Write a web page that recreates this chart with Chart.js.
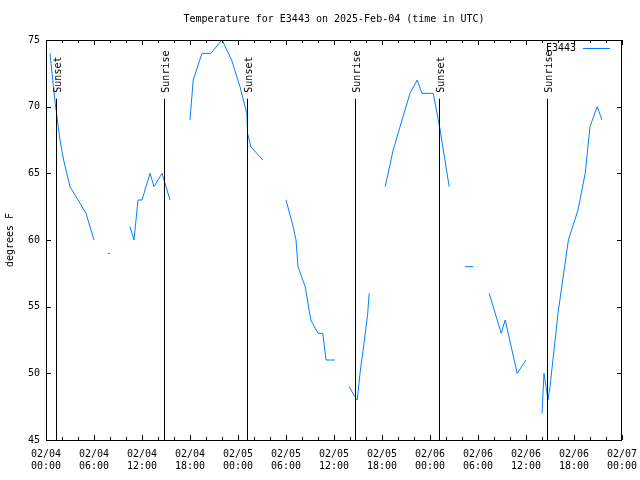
<!DOCTYPE html>
<html lang="en">
<head>
    <meta charset="UTF-8">
    <title>Temperature for E3443</title>
    <style>
        body {
            margin: 0;
            background-color: #ffffff;
        }
        canvas {
            display: block;
        }
    </style>
</head>
<body>
    <canvas id="tempChart" width="640" height="480"></canvas>

    <script src="https://cdn.jsdelivr.net/npm/chart.js"></script>
    <script>
        // hours since 02/04 00:00 UTC, temperature in F (null = gap in the record)
        const hours = [
            0.5, 1.1, 1.75, 2.2, 3, 4, 5, 6, 6.5,
            7.75, 8.0, 9,
            10.5, 11, 11.5, 12, 13, 13.5, 14.5, 15.5, 16.5,
            18, 18.4, 19.5, 20.6, 22, 23.2, 24.25, 25.1, 25.2, 25.6, 27.1, 28.5,
            30, 30.9, 31.25, 31.5, 32.4, 33.1, 34, 34.6, 35, 36.1, 37,
            37.9, 38.6, 38.9, 39.3, 39.75, 40.2, 40.4, 41.5,
            42.4, 43.4, 44.5, 45.5, 46.4, 47, 48.4, 49.2, 50.4, 51.5,
            52.4, 53.4, 54.5,
            55.4, 56.9, 57.4, 58.9, 60, 61,
            62, 62.25, 62.5, 62.75, 63, 64, 65.3, 66.5, 67.4, 68, 68.9, 69.5
        ];
        const temps = [
            74, 70.5, 67.5, 66, 64, 63, 62, 60, null,
            59, 59, null,
            61, 60, 63, 63, 65, 64, 65, 63, null,
            69, 72, 74, 74, 75, 73.5, 71.5, 69.5, 68, 67, 66, null,
            63, 61, 60, 58, 56.5, 54, 53, 53, 51, 51, null,
            49, 48.25, 48, 50.25, 52.25, 54.4, 56, null,
            64, 66.75, 69, 71, 72, 71, 71, 68.5, 64, null,
            58, 58, null,
            56, 53, 54, 50, 51, null,
            47, 50, 49, 48, 49, 54.5, 60, 62.25, 65, 68.5, 70, 69
        ];
        const tickDates = ['02/04', '02/04', '02/04', '02/04', '02/05', '02/05', '02/05', '02/05', '02/06', '02/06', '02/06', '02/06', '02/07'];
        const tickTimes = ['00:00', '06:00', '12:00', '18:00', '00:00', '06:00', '12:00', '18:00', '00:00', '06:00', '12:00', '18:00', '00:00'];
        const sunsetHours = [1.25, 25.125, 49.125];
        const sunriseHours = [14.75, 38.625, 62.625];

        const FONT = '10px "DejaVu Sans Mono", monospace';
        const LINE_COLOR = '#0080ff';

        const gnuplotDecor = {
            id: 'gnuplotDecor',
            afterDatasetsDraw(chart) {
                const ctx = chart.ctx;
                const x = chart.scales.x;
                const y = chart.scales.y;
                const a = chart.chartArea;
                ctx.save();
                ctx.strokeStyle = '#000';
                ctx.lineWidth = 1;

                // sunrise / sunset markers
                ctx.fillStyle = '#000';
                ctx.font = FONT;
                const sunTop = y.getPixelForValue(70.6);
                const drawSun = (h, label) => {
                    const px = Math.round(x.getPixelForValue(h)) + 0.5;
                    ctx.beginPath();
                    ctx.moveTo(px, sunTop);
                    ctx.lineTo(px, a.bottom);
                    ctx.stroke();
                    ctx.save();
                    ctx.translate(px + 1.5, sunTop - 6);
                    ctx.rotate(-Math.PI / 2);
                    ctx.textAlign = 'left';
                    ctx.textBaseline = 'middle';
                    ctx.fillText(label, 0, 0);
                    ctx.restore();
                };
                sunsetHours.forEach(h => drawSun(h, 'Sunset'));
                sunriseHours.forEach(h => drawSun(h, 'Sunrise'));

                // frame
                ctx.strokeRect(a.left + 0.5, a.top + 0.5, a.right - a.left - 1, a.bottom - a.top);

                // x ticks (major every 6h, minor every 2h), mirrored on top
                ctx.beginPath();
                for (let h = 0; h <= 72; h += 2) {
                    const px = Math.round(x.getPixelForValue(h)) + 0.5;
                    const len = h % 6 === 0 ? 5 : 3;
                    ctx.moveTo(px, a.bottom);
                    ctx.lineTo(px, a.bottom - len);
                    ctx.moveTo(px, a.top);
                    ctx.lineTo(px, a.top + len);
                }
                // y ticks, both sides
                for (let v = 45; v <= 75; v += 5) {
                    const py = Math.round(y.getPixelForValue(v)) + 0.5;
                    ctx.moveTo(a.left, py);
                    ctx.lineTo(a.left + 5, py);
                    ctx.moveTo(a.right, py);
                    ctx.lineTo(a.right - 5, py);
                }
                ctx.stroke();

                // legend
                ctx.textAlign = 'right';
                ctx.textBaseline = 'middle';
                ctx.fillText('E3443', 576, 48);
                ctx.strokeStyle = LINE_COLOR;
                ctx.beginPath();
                ctx.moveTo(583, 48.5);
                ctx.lineTo(610, 48.5);
                ctx.stroke();

                // title
                ctx.textAlign = 'center';
                ctx.fillText('Temperature for E3443 on 2025-Feb-04 (time in UTC)', (a.left + a.right) / 2, 19);

                // y axis label
                ctx.save();
                ctx.translate(10, (a.top + a.bottom) / 2);
                ctx.rotate(-Math.PI / 2);
                ctx.textAlign = 'center';
                ctx.fillText('degrees F', 0, 0);
                ctx.restore();

                ctx.restore();
            }
        };

        const points = hours.map((h, i) => ({ x: h, y: temps[i] }));

        new Chart(document.getElementById('tempChart').getContext('2d'), {
            type: 'line',
            data: {
                datasets: [{
                    label: 'E3443',
                    data: points,
                    borderColor: LINE_COLOR,
                    borderWidth: 1,
                    pointRadius: 0,
                    tension: 0,
                    spanGaps: false,
                    fill: false
                }]
            },
            options: {
                responsive: false,
                animation: false,
                devicePixelRatio: 1,
                layout: { padding: { top: 40, right: 18, bottom: 0, left: 0 } },
                plugins: {
                    legend: { display: false },
                    title: { display: false },
                    tooltip: { enabled: false }
                },
                scales: {
                    x: {
                        type: 'linear',
                        min: 0,
                        max: 72,
                        border: { display: false },
                        grid: { display: false, drawTicks: false },
                        afterFit: (scale) => {
                            scale.height = 40;
                            scale.paddingLeft = 0;
                            scale.paddingRight = 0;
                        },
                        ticks: {
                            stepSize: 6,
                            autoSkip: false,
                            maxRotation: 0,
                            padding: 8,
                            color: '#000',
                            font: { family: '"DejaVu Sans Mono", monospace', size: 10, lineHeight: 1.2 },
                            callback: (v) => [tickDates[v / 6], tickTimes[v / 6]]
                        }
                    },
                    y: {
                        min: 45,
                        max: 75,
                        border: { display: false },
                        grid: { display: false, drawTicks: false },
                        afterFit: (scale) => {
                            scale.width = 46;
                            scale.paddingTop = 0;
                            scale.paddingBottom = 0;
                        },
                        ticks: {
                            stepSize: 5,
                            padding: 6,
                            color: '#000',
                            font: { family: '"DejaVu Sans Mono", monospace', size: 10 }
                        }
                    }
                }
            },
            plugins: [gnuplotDecor]
        });
    </script>
</body>
</html>
